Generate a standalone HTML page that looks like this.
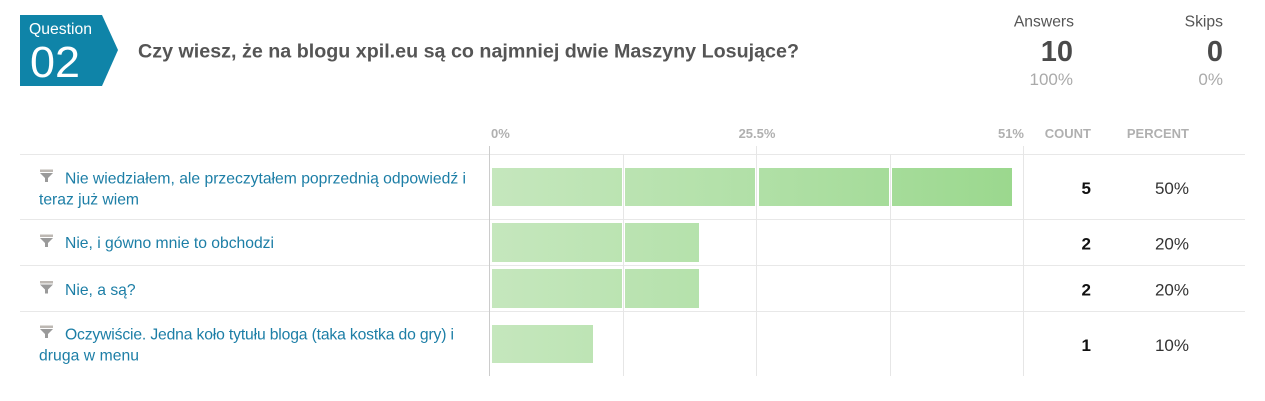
<!DOCTYPE html>
<html>
<head>
<meta charset="utf-8">
<style>
  html, body { margin: 0; padding: 0; background: #ffffff; }
  body { width: 1265px; height: 401px; overflow: hidden; }
  svg { display: block; }
  text { font-family: "Liberation Sans", "DejaVu Sans", sans-serif; }
</style>
</head>
<body>
<svg width="1265" height="401" viewBox="0 0 1265 401" xmlns="http://www.w3.org/2000/svg">
  <defs>
    <linearGradient id="barg" gradientUnits="userSpaceOnUse" x1="492" y1="0" x2="1012" y2="0">
      <stop offset="0" stop-color="#c5e7bd"/>
      <stop offset="0.5" stop-color="#b1e0a7"/>
      <stop offset="1" stop-color="#9bd88e"/>
    </linearGradient>
  </defs>

  <!-- Question badge -->
  <polygon points="20,15 102,15 118,50 102,86 20,86" fill="#0f84a8"/>
  <text x="29" y="34" font-size="15.5" fill="#ffffff" textLength="63" lengthAdjust="spacingAndGlyphs">Question</text>
  <text x="30" y="77" font-size="44" fill="#ffffff" textLength="50" lengthAdjust="spacingAndGlyphs">02</text>

  <!-- Title -->
  <text x="138" y="57.3" font-size="19.5" font-weight="bold" fill="#555555" textLength="661" lengthAdjust="spacingAndGlyphs">Czy wiesz, że na blogu xpil.eu są co najmniej dwie Maszyny Losujące?</text>

  <!-- Stats -->
  <text x="1074" y="26.7" font-size="15.7" fill="#555555" text-anchor="end">Answers</text>
  <text x="1073" y="61" font-size="29" font-weight="bold" fill="#4a4a4a" text-anchor="end">10</text>
  <text x="1073" y="85" font-size="17" fill="#aaaaaa" text-anchor="end">100%</text>
  <text x="1223" y="26.7" font-size="15.7" fill="#555555" text-anchor="end">Skips</text>
  <text x="1223" y="61" font-size="29" font-weight="bold" fill="#4a4a4a" text-anchor="end">0</text>
  <text x="1223" y="85" font-size="17" fill="#aaaaaa" text-anchor="end">0%</text>

  <!-- Column headers -->
  <g font-size="13" font-weight="bold" fill="#b0b0b0">
    <text x="491" y="138">0%</text>
    <text x="757" y="138" text-anchor="middle">25.5%</text>
    <text x="1024" y="138" text-anchor="end">51%</text>
    <text x="1091" y="138" text-anchor="end">COUNT</text>
    <text x="1189" y="138" text-anchor="end">PERCENT</text>
  </g>

  <!-- Row lines -->
  <g stroke="#e8e8e8" stroke-width="1">
    <line x1="20" y1="154.5" x2="1245" y2="154.5"/>
    <line x1="20" y1="219.5" x2="1245" y2="219.5"/>
    <line x1="20" y1="265.5" x2="1245" y2="265.5"/>
    <line x1="20" y1="311.5" x2="1245" y2="311.5"/>
  </g>

  <!-- Grid lines -->
  <g stroke="#e6e6e6" stroke-width="1">
    <line x1="623.5" y1="154" x2="623.5" y2="376"/>
    <line x1="756.5" y1="146" x2="756.5" y2="376"/>
    <line x1="890.5" y1="154" x2="890.5" y2="376"/>
    <line x1="1023.5" y1="146" x2="1023.5" y2="376"/>
  </g>
  <line x1="489.5" y1="146" x2="489.5" y2="376" stroke="#cccccc" stroke-width="1"/>

  <!-- Bars -->
  <g fill="url(#barg)">
    <rect x="492" y="168" width="130" height="38"/>
    <rect x="625" y="168" width="130" height="38"/>
    <rect x="759" y="168" width="130" height="38"/>
    <rect x="892" y="168" width="120" height="38"/>
    <rect x="492" y="223" width="130" height="39"/>
    <rect x="625" y="223" width="74" height="39"/>
    <rect x="492" y="269" width="130" height="39"/>
    <rect x="625" y="269" width="74" height="39"/>
    <rect x="492" y="325" width="101" height="38"/>
  </g>

  <!-- Filter icons -->
  <g>
    <g transform="translate(0,0)">
      <rect x="40" y="169.5" width="13" height="2.5" fill="#bdb8b3"/>
      <polygon points="40,173 53,173 48,178 48,182 45,182 45,178" fill="#9a9a9a"/>
    </g>
    <g transform="translate(0,65)">
      <rect x="40" y="169.5" width="13" height="2.5" fill="#bdb8b3"/>
      <polygon points="40,173 53,173 48,178 48,182 45,182 45,178" fill="#9a9a9a"/>
    </g>
    <g transform="translate(0,111.5)">
      <rect x="40" y="169.5" width="13" height="2.5" fill="#bdb8b3"/>
      <polygon points="40,173 53,173 48,178 48,182 45,182 45,178" fill="#9a9a9a"/>
    </g>
    <g transform="translate(0,156)">
      <rect x="40" y="169.5" width="13" height="2.5" fill="#bdb8b3"/>
      <polygon points="40,173 53,173 48,178 48,182 45,182 45,178" fill="#9a9a9a"/>
    </g>
  </g>

  <!-- Labels -->
  <g font-size="15.7" fill="#1c7ea6">
    <text x="65" y="183.5" textLength="401" lengthAdjust="spacing">Nie wiedziałem, ale przeczytałem poprzednią odpowiedź i</text>
    <text x="39" y="204.5" textLength="100" lengthAdjust="spacing">teraz już wiem</text>
    <text x="65" y="248" textLength="209" lengthAdjust="spacing">Nie, i gówno mnie to obchodzi</text>
    <text x="65" y="295">Nie, a są?</text>
    <text x="65" y="339.5" textLength="389" lengthAdjust="spacing">Oczywiście. Jedna koło tytułu bloga (taka kostka do gry) i</text>
    <text x="39" y="360.5" textLength="100" lengthAdjust="spacing">druga w menu</text>
  </g>

  <!-- Counts -->
  <g font-size="17" font-weight="bold" fill="#111111" text-anchor="end">
    <text x="1091" y="194">5</text>
    <text x="1091" y="249.5">2</text>
    <text x="1091" y="295.5">2</text>
    <text x="1091" y="351">1</text>
  </g>
  <!-- Percents -->
  <g font-size="17" fill="#333333" text-anchor="end">
    <text x="1189" y="194">50%</text>
    <text x="1189" y="249.5">20%</text>
    <text x="1189" y="295.5">20%</text>
    <text x="1189" y="351">10%</text>
  </g>
</svg>
</body>
</html>
